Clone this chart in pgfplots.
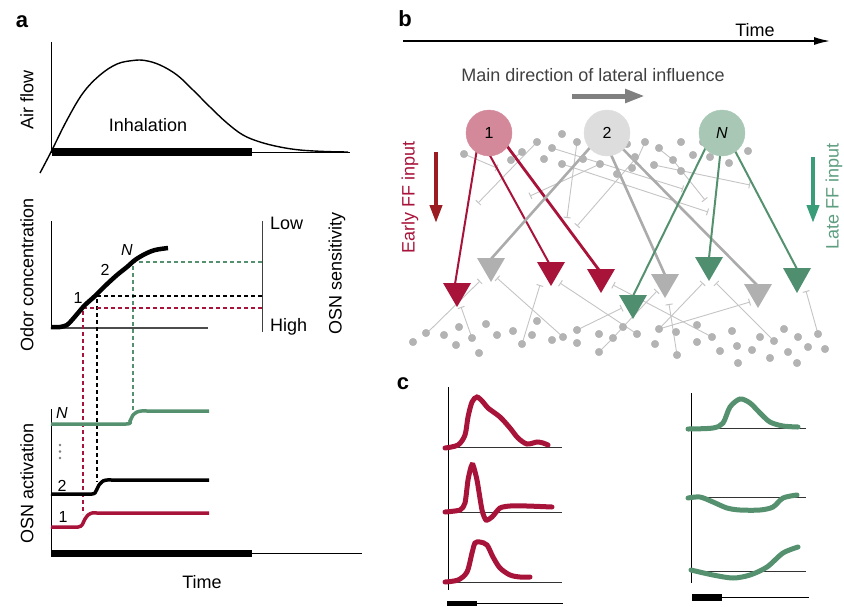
\documentclass[border=0pt]{standalone}
\usepackage{pgfplots}
\pgfplotsset{compat=1.18}
\usetikzlibrary{arrows.meta}
\usepackage{fontspec}
\setmainfont{Liberation Sans}
\definecolor{crim}{HTML}{A8133A}
\definecolor{crimd}{HTML}{9B1C22}
\definecolor{grn}{HTML}{4F8F6F}
\definecolor{grnl}{HTML}{55916F}
\definecolor{grna}{HTML}{3A9D7A}
\definecolor{grnt}{HTML}{5E9E80}
\definecolor{pinkc}{HTML}{D4899A}
\definecolor{grayc}{HTML}{DDDDDD}
\definecolor{grnc}{HTML}{A8C8B5}
\definecolor{dotg}{HTML}{B3B3B3}
\definecolor{ffgray}{HTML}{ABABAB}
\definecolor{triag}{HTML}{B0B0B0}
\definecolor{inhg}{HTML}{C4C4C4}
\tikzset{lab/.style={font=\fontsize{18}{21}\selectfont, inner sep=0pt},
  num/.style={font=\fontsize{16}{19}\selectfont, inner sep=0pt},
  pl/.style={font=\fontsize{22}{24}\selectfont\bfseries, inner sep=0pt}}
\pgfplotsset{
  inh/.style={inhg, line width=0.9pt, -{Bar[width=7pt, line width=1pt]}},
  dots/.style={only marks, mark=*, mark size=3.8pt, color=dotg},
  ffr/.style={crim, line width=2pt},
  ffgl/.style={ffgray, line width=2.6pt},
  ffn/.style={grnl, line width=2pt},
  dsh/.style={line width=1.2pt, dash pattern=on 4pt off 3pt},
}
\begin{document}
\begin{tikzpicture}
\begin{axis}[width=844pt,height=606pt,scale only axis,xmin=0,xmax=844,ymin=0,ymax=606,
  y dir=reverse,hide axis,clip=false]
% ---------- panel a: air flow ----------
\addplot[black, line width=0.9pt] coordinates {(51,42) (51,152)};
\addplot[black, line width=1pt] coordinates {(51,152) (350,152)};
\addplot[black, line width=8pt] coordinates {(52,152) (252,152)};
\addplot[black, line width=1.4pt, smooth, tension=0.6] coordinates {(40,173) (51,152) (67,120) (83,93) (100,75) (117,64) (133,60.5) (145,60.5) (160,65) (177,75) (193,90) (210,107) (227,123) (243,135) (260,142) (280,147) (300,150) (325,151.5) (348,152)};
\node[lab] at (148,125) {Inhalation};
\node[lab, rotate=90] at (27,100) {Air flow};
\node[pl] at (22,22) {a};
% ---------- panel a: odor ----------
\addplot[black, line width=1pt] coordinates {(51,221) (51,328)};
\addplot[black!70, line width=1.5pt] coordinates {(51,328) (208,328)};
\addplot[black!75, line width=1pt] coordinates {(262,221) (262,332)};
\addplot[grnl, dsh] coordinates {(262,262) (133,262) (133,412)};
\addplot[black, dsh] coordinates {(262,296) (97,296) (97,482)};
\addplot[crim, dsh] coordinates {(262,308) (83,308) (83,514)};
\addplot[black, line width=4.5pt, smooth, tension=0.5] coordinates {(51,327) (60,327) (67,325) (72,320) (78,313) (85,305) (95,296) (105,286) (117,275) (127,267) (135,260) (145,254) (155,250) (168,248)};
\node[num] at (78,298) {1};
\node[num] at (105,270) {2};
\node[num] at (127,250) {\itshape N};
\node[lab, anchor=west] at (270,223) {Low};
\node[lab, anchor=west] at (270,327) {High};
\node[lab, rotate=90] at (337,273) {OSN sensitivity};
\node[lab, rotate=90] at (27,275) {Odor concentration};
% ---------- panel a: activation ----------
\addplot[black, line width=1pt] coordinates {(51,409) (51,557)};
\addplot[black, line width=1pt] coordinates {(51,553) (362,553)};
\addplot[black, line width=7pt] coordinates {(52,553) (252,553)};
\addplot[crim, line width=3.5pt, smooth, tension=0.3] coordinates {(51,527) (78,527) (82,525) (85,519) (88,515) (92,513) (100,513) (209,513)};
\addplot[black, line width=3.5pt, smooth, tension=0.3] coordinates {(51,494) (92,494) (96,491) (99,485) (103,481) (107,480) (115,480) (209,480)};
\addplot[grnl, line width=3.5pt, smooth, tension=0.3] coordinates {(51,424) (126,424) (130,421) (133,415) (137,412) (141,411) (149,411) (209,411)};
\addplot[only marks, mark=*, mark size=1pt, color=gray] coordinates {(60,445) (60,451.5) (60,458)};
\node[num] at (62,413) {\itshape N};
\node[num] at (62,486) {2};
\node[num] at (63,517) {1};
\node[lab, rotate=90] at (27,483) {OSN activation};
\node[lab] at (202,582) {Time};
% ---------- panel b ----------
\node[pl] at (405,19) {b};
\addplot[black, line width=1.5pt, -{Latex[length=16pt,width=8pt]}] coordinates {(403,41) (830,41)};
\node[lab] at (755,30) {Time};
\node[lab, text=black!75] at (593,75) {Main direction of lateral influence};
\addplot[black!50, line width=5pt, -{Triangle[length=20pt,width=13pt]}] coordinates {(572,96) (645,96)};
% FF input arrows
\addplot[crimd, line width=4pt, -{Triangle[length=18pt,width=12pt]}] coordinates {(436,152) (436,223)};
\addplot[grna, line width=4pt, -{Triangle[length=18pt,width=12pt]}] coordinates {(813,157) (813,223)};
\node[lab, rotate=90, text=crim] at (410,197) {Early FF input};
\node[lab, rotate=90, text=grnt] at (834,196) {Late FF input};
% inhibitory lateral connections
\addplot[inh] coordinates {(464,154) (497,168)};
\addplot[inh] coordinates {(537,142) (478,203)};
\addplot[inh] coordinates {(552,148) (683,189)};
\addplot[inh] coordinates {(562,164) (708,212)};
\addplot[inh] coordinates {(600,164) (530,196)};
\addplot[inh] coordinates {(577,142) (567,218)};
\addplot[inh] coordinates {(637,157) (577,226)};
\addplot[inh] coordinates {(654,165) (750,185)};
\addplot[inh] coordinates {(658,148) (673,160) (705,200)};
\addplot[inhg, line width=0.9pt] coordinates {(645,142) (633,169)};
\addplot[inhg, line width=0.9pt] coordinates {(511,160) (522,152)};
\addplot[inh] coordinates {(427,333) (480,281)};
\addplot[inh] coordinates {(472,338) (461,307)};
\addplot[inh] coordinates {(522,344) (540,285)};
\addplot[inh] coordinates {(563,337) (497,278)};
\addplot[inh] coordinates {(577,330) (622,308)};
\addplot[inh] coordinates {(599,352) (613,338) (623,327) (657,291)};
\addplot[inh] coordinates {(677,355) (669,304)};
\addplot[inh] coordinates {(659,329) (703,283)};
\addplot[inh] coordinates {(659,329) (750,302)};
\addplot[inh] coordinates {(637,334) (560,283)};
\addplot[inh] coordinates {(712,337) (613,285)};
\addplot[inh] coordinates {(774,341) (716,283)};
\addplot[inh] coordinates {(818,334) (806,291)};
% dots
\addplot[dots] coordinates {(464,154) (504,141) (511,160) (522,152) (537,142) (544,159) (552,148) (562,134) (562,164) (577,142) (583,159) (600,164) (617,174) (627,144) (635,157) (632,168) (645,142) (654,165) (659,148) (673,160) (681,142) (681,171) (693,155) (703,142) (710,157) (729,163) (748,151)};
\addplot[dots] coordinates {(413,342) (426,333) (444,335) (456,345) (459,327) (472,338) (479,353) (486,324) (497,335) (513,331) (522,344) (532,335) (537,321) (552,340) (563,337) (577,330) (577,343) (599,334) (599,352) (613,338) (623,327) (637,334) (655,344) (659,329) (676,332) (677,355) (697,325) (697,342) (712,337) (720,351) (732,331) (737,346) (738,363) (752,350) (760,337) (770,358) (774,341) (784,329) (788,352) (797,363) (798,337) (808,347) (818,334) (825,349)};
% circles
\addplot[only marks, mark=*, mark size=23pt, color=pinkc] coordinates {(489,133)};
\addplot[only marks, mark=*, mark size=23pt, color=grayc] coordinates {(607,133)};
\addplot[only marks, mark=*, mark size=23pt, color=grnc] coordinates {(722,133)};
\coordinate (c1) at (489,133);
\coordinate (c2) at (607,133);
\coordinate (cN) at (722,133);
% FF connections
\addplot[ffr] coordinates {(478,143) (455,284)};
\addplot[ffr] coordinates {(488,152) (549,263)};
\addplot[ffr, line width=2.8pt] coordinates {(504,142) (599,270)};
\addplot[ffgl] coordinates {(595,142) (491,259)};
\addplot[ffgl] coordinates {(608,148) (665,275)};
\addplot[ffgl] coordinates {(617,143) (757,285)};
\addplot[ffn] coordinates {(708,143) (633,296)};
\addplot[ffn] coordinates {(721,147) (709,258)};
\addplot[ffn] coordinates {(733,147) (797,269)};
% triangles
\addplot[fill=crim, draw=none] coordinates {(443,283) (471,283) (457,307)};
\addplot[fill=crim, draw=none] coordinates {(537,262) (565,262) (551,286)};
\addplot[fill=crim, draw=none] coordinates {(587,269) (615,269) (601,293)};
\addplot[fill=triag, draw=none] coordinates {(477,258) (505,258) (491,282)};
\addplot[fill=triag, draw=none] coordinates {(651,274) (679,274) (665,298)};
\addplot[fill=triag, draw=none] coordinates {(744,284) (772,284) (758,308)};
\addplot[fill=grn, draw=none] coordinates {(619,295) (647,295) (633,319)};
\addplot[fill=grn, draw=none] coordinates {(695,257) (723,257) (709,281)};
\addplot[fill=grn, draw=none] coordinates {(783,268) (811,268) (797,293)};
% ---------- panel c ----------
\node[pl] at (403,384) {c};
\addplot[black, line width=1pt] coordinates {(448,387) (448,590)};
\addplot[black!80, line width=1pt] coordinates {(448,447) (562,447)};
\addplot[black!80, line width=1pt] coordinates {(448,512) (562,512)};
\addplot[black!80, line width=1pt] coordinates {(448,582) (562,582)};
\addplot[black, line width=1pt] coordinates {(447,603) (563,603)};
\addplot[black, line width=5pt] coordinates {(447,603) (477,603)};
\addplot[black, line width=1pt] coordinates {(691,393) (691,583)};
\addplot[black!80, line width=1pt] coordinates {(691,428) (806,428)};
\addplot[black!80, line width=1pt] coordinates {(691,497) (806,497)};
\addplot[black!80, line width=1pt] coordinates {(691,571) (806,571)};
\addplot[black, line width=1pt] coordinates {(692,597) (809,597)};
\addplot[black, line width=7pt] coordinates {(692,597) (722,597)};
\addplot[crim, line width=5pt, smooth, line cap=round] coordinates {(445,448) (458,445) (465,435) (468,417) (472,402) (477,397) (483,402) (488,408) (500,417) (510,428) (518,438) (527,444) (537,442) (543,443) (548,445)};
\addplot[crim, line width=5pt, smooth, tension=0.4, line cap=round] coordinates {(445,512) (460,510) (465,503) (468,480) (471,467) (473,465) (477,480) (482,510) (486,520) (492,517) (500,508) (510,506) (527,506) (552,507)};
\addplot[crim, line width=5pt, smooth, line cap=round] coordinates {(445,582) (458,580) (467,572) (472,553) (475,543) (480,542) (487,545) (493,557) (500,568) (510,575) (520,577) (530,577)};
\addplot[grnl, line width=5pt, smooth, line cap=round] coordinates {(688,429) (713,428) (723,423) (730,407) (740,399) (750,403) (760,413) (770,422) (783,426) (798,427)};
\addplot[grnl, line width=5pt, smooth, line cap=round] coordinates {(688,498) (700,497) (713,502) (727,508) (740,510) (760,510) (773,507) (783,498) (797,495)};
\addplot[grnl, line width=5pt, smooth, line cap=round] coordinates {(691,570) (713,575) (733,578) (750,575) (767,567) (783,553) (798,547)};
\end{axis}
\node[num] at (c1) {1};
\node[num] at (c2) {2};
\node[num] at (cN) {\itshape N};
\pgfresetboundingbox
\path[use as bounding box] (current axis.south west) rectangle (current axis.north east);
\end{tikzpicture}
\end{document}
